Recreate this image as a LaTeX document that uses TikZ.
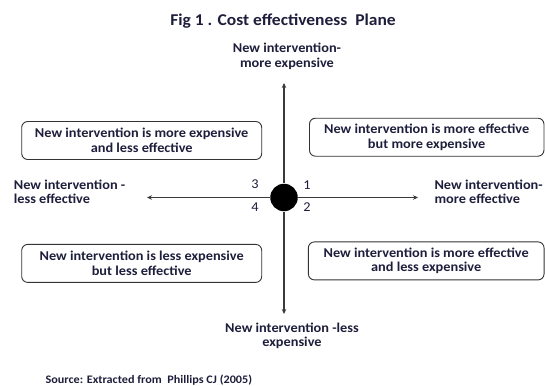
\documentclass[tikz,border=0pt]{standalone}
\usepackage{fontspec}
\setmainfont{Carlito}[FakeStretch=1.06]
\usetikzlibrary{arrows.meta}
\definecolor{inktext}{HTML}{1E1E3C}
\definecolor{axisgray}{HTML}{3A3A3A}

\begin{document}
\begin{tikzpicture}[x=1pt,y=-1pt,line width=1.1pt,>={Stealth[length=5pt,width=4.5pt]},
  lbl/.style={text=inktext,font=\fontsize{13.5}{14.5}\selectfont\bfseries,align=center,inner sep=0pt},
  quad/.style={lbl,draw=black!80,line width=0.9pt,rounded corners=6pt,minimum height=38pt},
  num/.style={text=inktext,font=\fontsize{13.5}{14}\selectfont,inner sep=0pt}]
  \useasboundingbox (0,0) rectangle (545,385);
  \node (title) at (283,21) [lbl,font=\fontsize{16.5}{18}\selectfont\bfseries]{Fig 1 . Cost effectiveness\ \ Plane};
  % axes through the origin
  \node (origin) at (284,197.5) [circle,fill=black,inner sep=0pt,minimum size=27.5pt]{};
  \coordinate (up) at (284,83);
  \coordinate (down) at (284,314);
  \coordinate (left) at (147,197.5);
  \coordinate (right) at (418,197.5);
  \draw[->,axisgray] (origin) -- (up);
  \draw[->,axisgray] (origin) -- (down);
  \draw[->,axisgray] (origin) -- (left);
  \draw[->,axisgray] (origin) -- (right);
  \node (n1) at (307,185.5)[num]{1};
  \node (n2) at (307,207.5)[num]{2};
  \node (n3) at (255,184.5)[num]{3};
  \node (n4) at (255,207.5)[num]{4};
  % axis ends
  \node (costup) at (287,56.5)[lbl]{New intervention-\\more expensive};
  \node (costdown) at (292,336)[lbl]{New intervention -less\\expensive};
  \node (effless) at (13.3,192)[lbl,anchor=west,align=left]{New intervention -\\less effective};
  \node (effmore) at (434,192)[lbl,anchor=west,align=left]{New intervention-\\more effective};
  % the four quadrants
  \node (q3) at (141.7,140.5)[quad,minimum width=240pt]{New intervention is more expensive\\and less effective};
  \node (q1) at (426.7,137.2)[quad,minimum width=234.5pt]{New intervention is more effective\\but more expensive};
  \node (q4) at (141.7,263.4)[quad,minimum width=240pt]{New intervention is less expensive\\but less effective};
  \node (q2) at (426.2,260.9)[quad,minimum width=235.7pt]{New intervention is more effective\\and less expensive};
  \node (source) at (45,380)[lbl,anchor=west,font=\fontsize{11.5}{12}\selectfont\bfseries]{Source: Extracted from\ \ Phillips CJ (2005)};
\end{tikzpicture}
\end{document}
